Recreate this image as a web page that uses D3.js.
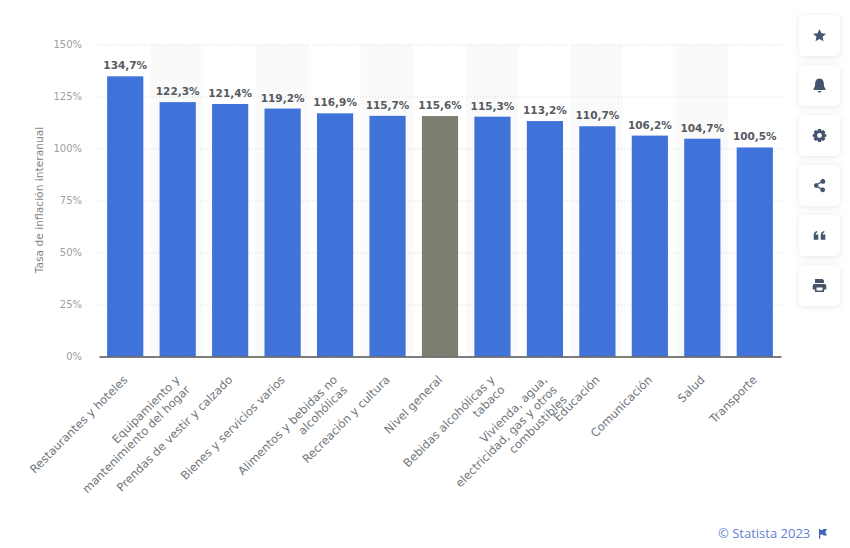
<!DOCTYPE html>
<html>
<head>
<meta charset="utf-8">
<script src="https://cdn.jsdelivr.net/npm/d3@7"></script>
<style>
  html, body { margin: 0; padding: 0; background: #fff; }
  svg { display: block; font-family: "DejaVu Sans", sans-serif; }
</style>
</head>
<body>
<div id="chart"></div>
<script>
var categories = [
  ["Restaurantes y hoteles"],
  ["Equipamiento y", "mantenimiento del hogar"],
  ["Prendas de vestir y calzado"],
  ["Bienes y servicios varios"],
  ["Alimentos y bebidas no", "alcohólicas"],
  ["Recreación y cultura"],
  ["Nivel general"],
  ["Bebidas alcohólicas y", "tabaco"],
  ["Vivienda, agua,", "electricidad, gas y otros", "combustibles"],
  ["Educación"],
  ["Comunicación"],
  ["Salud"],
  ["Transporte"]
];
var values = [134.7, 122.3, 121.4, 119.2, 116.9, 115.7, 115.6, 115.3, 113.2, 110.7, 106.2, 104.7, 100.5];
var valueLabels = ["134,7%", "122,3%", "121,4%", "119,2%", "116,9%", "115,7%", "115,6%", "115,3%", "113,2%", "110,7%", "106,2%", "104,7%", "100,5%"];
var yTicks = [0, 25, 50, 75, 100, 125, 150];
var highlighted = "Nivel general";

var svgWidth = 850;
var svgHeight = 548;
var margin = { top: 44.5, right: 69, bottom: 191.5, left: 99 };
var width = svgWidth - margin.left - margin.right;
var height = svgHeight - margin.top - margin.bottom;

var svg = d3.select("#chart").append("svg")
  .attr("width", svgWidth)
  .attr("height", svgHeight);

var defs = svg.append("defs");
var shadow = defs.append("filter").attr("id", "btnShadow")
  .attr("x", "-30%").attr("y", "-30%").attr("width", "160%").attr("height", "160%");
shadow.append("feDropShadow")
  .attr("dx", 0).attr("dy", 1).attr("stdDeviation", 3)
  .attr("flood-color", "#9aa5b5").attr("flood-opacity", 0.28);

var chartGroup = svg.append("g")
  .attr("transform", `translate(${margin.left}, ${margin.top})`);

var xScale = d3.scaleBand()
  .domain(d3.range(categories.length))
  .range([0, width])
  .paddingInner(0.31)
  .paddingOuter(0.155);

var yScale = d3.scaleLinear()
  .domain([0, 150])
  .range([height, 0]);

// alternating background stripes, centred on their bars
chartGroup.selectAll(".stripe")
  .data(d3.range(categories.length).filter(i => i % 2 == 1))
  .enter().append("rect")
  .attr("class", "stripe")
  .attr("x", i => xScale(i) + xScale.bandwidth() / 2 - xScale.step() / 2 - 0.5)
  .attr("y", 0)
  .attr("width", xScale.step())
  .attr("height", height)
  .attr("fill", "#fafafb");

// y axis with dotted grid lines
var yAxis = d3.axisLeft(yScale)
  .tickValues(yTicks)
  .tickSize(-width)
  .tickPadding(17)
  .tickFormat(d => d + "%");

var yGroup = chartGroup.append("g").call(yAxis);
yGroup.attr("font-family", null);
yGroup.select(".domain").remove();
yGroup.selectAll("line")
  .attr("stroke", "#d9d9d9")
  .attr("stroke-dasharray", "1,2");
yGroup.selectAll("text")
  .attr("fill", "#a0a0a0")
  .attr("font-size", 10);

// bars
chartGroup.selectAll(".bar")
  .data(values)
  .enter().append("rect")
  .attr("class", "bar")
  .attr("x", (d, i) => xScale(i))
  .attr("y", d => yScale(d))
  .attr("width", xScale.bandwidth())
  .attr("height", d => height - yScale(d))
  .attr("fill", (d, i) => categories[i][0] == highlighted ? "#7e7d72" : "#3f73d9");

// value labels
chartGroup.selectAll(".valueLabel")
  .data(values)
  .enter().append("text")
  .attr("class", "valueLabel")
  .attr("x", (d, i) => xScale(i) + xScale.bandwidth() / 2)
  .attr("y", d => yScale(d) - 7)
  .attr("text-anchor", "middle")
  .attr("font-size", 10.5)
  .attr("font-weight", "bold")
  .attr("fill", "#555a60")
  .text((d, i) => valueLabels[i]);

// x axis, labels are rotated and can have several lines
var xAxis = d3.axisBottom(xScale).tickSize(0).tickFormat("");
var xGroup = chartGroup.append("g")
  .attr("transform", `translate(0, ${height})`)
  .call(xAxis);
xGroup.attr("font-family", null);
xGroup.select(".domain")
  .attr("stroke", "#555")
  .attr("stroke-width", 1.5);

xGroup.selectAll(".tick text").each(function(d) {
  var label = d3.select(this)
    .attr("transform", "translate(3, 24) rotate(-45)")
    .attr("x", 0)
    .attr("y", 0)
    .attr("dy", null)
    .attr("text-anchor", "end")
    .attr("font-size", 11.5)
    .attr("fill", "#70757a");
  categories[d].forEach(function(line, k) {
    label.append("tspan")
      .attr("x", 0)
      .attr("dy", k == 0 ? 0 : 14)
      .text(line);
  });
});

// y axis title
svg.append("text")
  .attr("transform", "translate(43, 200) rotate(-90)")
  .attr("text-anchor", "middle")
  .attr("font-size", 10.7)
  .attr("fill", "#808488")
  .text("Tasa de inflación interanual");

// source line
svg.append("text")
  .attr("x", 718)
  .attr("y", 538)
  .attr("font-family", "'Open Sans', sans-serif")
  .attr("font-size", 13)
  .attr("fill", "#5f82d3")
  .text("© Statista 2023");

svg.append("path")
  .attr("transform", "translate(819, 529)")
  .attr("d", "M0,0V9.5H1.3V5.5H3.5L4.5,6.5H8L6.3,3.2L8,0H4.5L3.5,1H1.3V0Z")
  .attr("fill", "#3f63b5");

// side buttons
var iconPaths = [
  "M0,-6.5L1.9,-2.2L6.5,-1.8L3,1.2L4,5.8L0,3.4L-4,5.8L-3,1.2L-6.5,-1.8L-1.9,-2.2Z",
  "M0,-7C3.4,-7 4.4,-4 4.4,-1C4.4,1.5 5.6,2.5 6,3.5V4.5H-6V3.5C-5.6,2.5 -4.4,1.5 -4.4,-1C-4.4,-4 -3.4,-7 0,-7ZM-1.8,5.5H1.8C1.6,6.6 0.9,7 0,7C-0.9,7 -1.6,6.6 -1.8,5.5Z",
  "M-1.5,-6.5H1.5L2,-4.6L3.8,-5.5L5.9,-3.4L5,-1.6L6.8,-1.2V1.2L5,1.6L5.9,3.4L3.8,5.5L2,4.6L1.5,6.5H-1.5L-2,4.6L-3.8,5.5L-5.9,3.4L-5,1.6L-6.8,1.2V-1.2L-5,-1.6L-5.9,-3.4L-3.8,-5.5L-2,-4.6ZM0,-2.4A2.4,2.4 0 1,0 0,2.4A2.4,2.4 0 1,0 0,-2.4Z",
  "M3.5,-6.5A2.4,2.4 0 1,1 1.6,-2.6L-1.3,-0.9A2.4,2.4 0 0,1 -1.3,0.9L1.6,2.6A2.4,2.4 0 1,1 0.9,3.8L-2,2.1A2.4,2.4 0 1,1 -2,-2.1L0.9,-3.8A2.4,2.4 0 0,1 3.5,-6.5Z",
  "M-5.8,-0.5C-5.8,-3 -4.5,-4.3 -2.2,-4.6V-3C-3.2,-2.8 -3.8,-2.2 -3.9,-1H-1.2V4.2H-5.8ZM1.2,-0.5C1.2,-3 2.5,-4.3 4.8,-4.6V-3C3.8,-2.8 3.2,-2.2 3.1,-1H5.8V4.2H1.2Z",
  "M-4.5,-6.5H3L4.5,-5V-2.5H-4.5ZM-5,-1.5H5C6,-1.5 6.8,-0.7 6.8,0.3V4H4.5V6.5H-4.5V4H-6.8V0.3C-6.8,-0.7 -6,-1.5 -5,-1.5ZM-3,2V5H3V2Z"
];
var buttonTop = d3.scaleLinear().domain([0, 5]).range([15, 265]);

var buttons = svg.selectAll(".sideButton")
  .data(iconPaths)
  .enter().append("g")
  .attr("class", "sideButton")
  .attr("transform", (d, i) => `translate(799, ${buttonTop(i)})`);

buttons.append("rect")
  .attr("width", 41)
  .attr("height", 41)
  .attr("rx", 5)
  .attr("fill", "#fff")
  .attr("filter", "url(#btnShadow)");

buttons.append("path")
  .attr("transform", "translate(20.5, 20.5)")
  .attr("fill-rule", "evenodd")
  .attr("fill", "#44546f")
  .attr("d", d => d);
</script>
</body>
</html>
